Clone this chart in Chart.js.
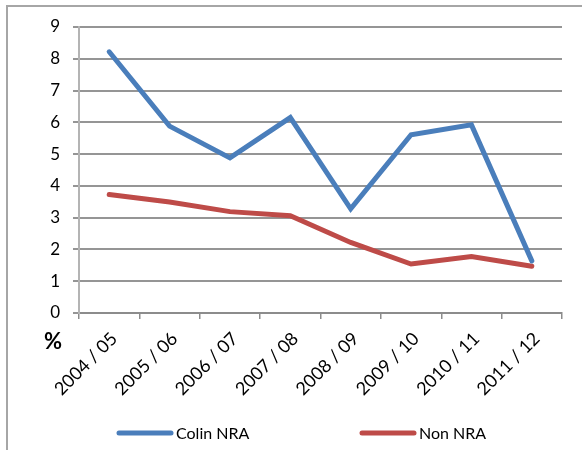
<!DOCTYPE html>
<html>
<head>
<meta charset="utf-8">
<script src="https://cdn.jsdelivr.net/npm/chart.js@4.4.0/dist/chart.umd.min.js"></script>
<style>
  html, body { margin: 0; padding: 0; background: #fff; }
  #wrap { position: relative; width: 582px; height: 450px; overflow: hidden; }
  #frame { position: absolute; left: 6px; top: 5px; width: 620px; height: 480px; border: 2px solid #a6a6a6; }
  #chartBox { position: absolute; left: 0; top: 0; width: 582px; height: 450px; }
</style>
</head>
<body>
<div id="wrap">
  <div id="frame"></div>
  <div id="chartBox"><canvas id="chart"></canvas></div>
</div>
<script>
const years = ['2004 / 05', '2005 / 06', '2006 / 07', '2007 / 08', '2008 / 09', '2009 / 10', '2010 / 11', '2011 / 12'];
const colinNRA = [8.22, 5.88, 4.88, 6.15, 3.28, 5.61, 5.92, 1.64];
const nonNRA   = [3.73, 3.49, 3.19, 3.06, 2.22, 1.54, 1.78, 1.47];

const FONT = 'Lato, "Open Sans", sans-serif';

// legend + "%" drawn by hand so spacing can match
const extras = {
  id: 'extras',
  afterDraw(chart) {
    const ctx = chart.ctx;
    ctx.save();
    ctx.fillStyle = '#000';
    ctx.font = 'bold 22px ' + FONT;
    ctx.textAlign = 'center';
    ctx.textBaseline = 'middle';
    ctx.fillText('%', 53, 342);

    const y = 433;
    const items = [
      { x: 119, ds: chart.data.datasets[0] },
      { x: 362, ds: chart.data.datasets[1] }
    ];
    ctx.font = '16px ' + FONT;
    ctx.textAlign = 'left';
    items.forEach(it => {
      ctx.strokeStyle = it.ds.borderColor;
      ctx.lineWidth = 5;
      ctx.lineCap = 'round';
      ctx.beginPath();
      ctx.moveTo(it.x, y);
      ctx.lineTo(it.x + 52, y);
      ctx.stroke();
      ctx.fillStyle = '#000';
      ctx.fillText(it.ds.label, it.x + 57, y + 1);
    });
    ctx.restore();
  }
};

new Chart(document.getElementById('chart'), {
  type: 'line',
  data: {
    labels: years,
    datasets: [
      { label: 'Colin NRA', data: colinNRA, borderColor: '#4a7ebb', borderWidth: 5,
        pointRadius: 0, tension: 0, borderCapStyle: 'round', borderJoinStyle: 'miter' },
      { label: 'Non NRA', data: nonNRA, borderColor: '#be4b48', borderWidth: 5,
        pointRadius: 0, tension: 0, borderCapStyle: 'round', borderJoinStyle: 'miter' }
    ]
  },
  options: {
    responsive: true,
    maintainAspectRatio: false,
    animation: false,
    layout: { padding: { top: 27, right: 20, bottom: 50, left: 0 } },
    plugins: { legend: { display: false }, tooltip: { enabled: false } },
    scales: {
      x: {
        offset: true,
        afterFit: s => { s.height = 87; },
        grid: { offset: true, drawOnChartArea: false, color: '#8c8c8c', tickLength: 6, lineWidth: 1.5 },
        border: { color: '#8c8c8c', width: 2 },
        ticks: { color: '#000', font: { family: FONT, size: 18 }, minRotation: 45, maxRotation: 45,
                 padding: 9, labelOffset: 5 }
      },
      y: {
        min: 0, max: 9,
        afterFit: s => { s.width = 79; },
        grid: { color: '#959595', lineWidth: 2, tickLength: 6 },
        border: { color: '#b4b4b4', width: 2 },
        ticks: { stepSize: 1, color: '#000', font: { family: FONT, size: 17 }, padding: 13 }
      }
    }
  },
  plugins: [extras]
});
</script>
</body>
</html>
